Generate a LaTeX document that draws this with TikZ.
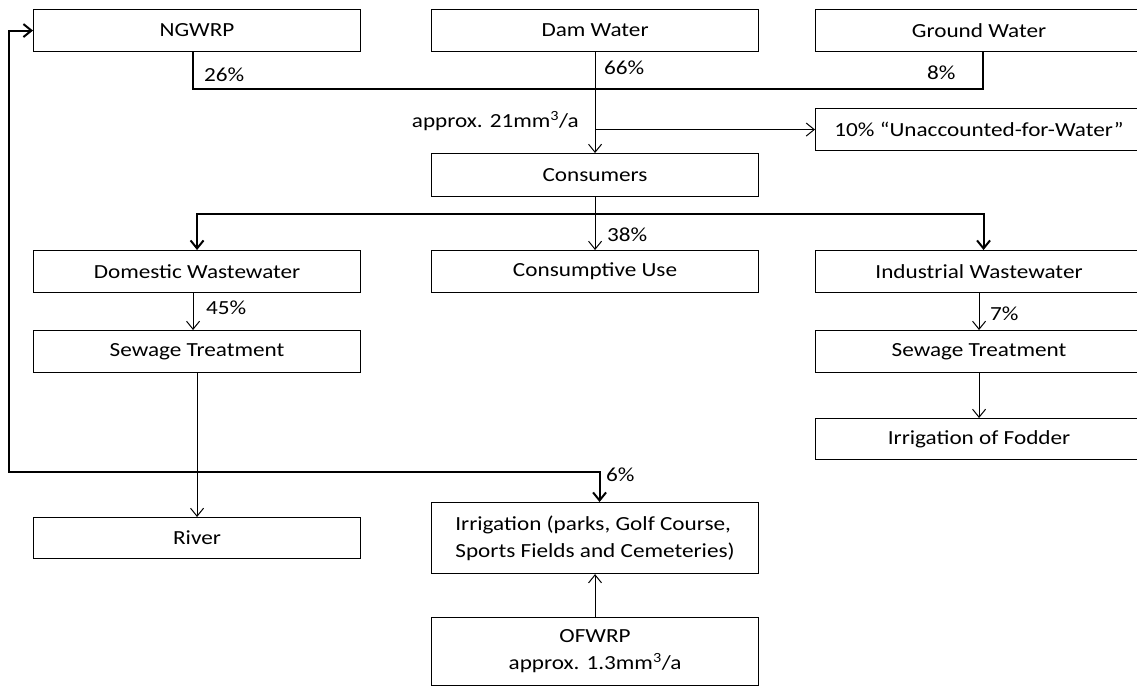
\documentclass[tikz,border=0pt]{standalone}
\usepackage{fontspec}
\setmainfont{Carlito}[FakeStretch=1.16]
\usetikzlibrary{arrows.meta}
\begin{document}
\begin{tikzpicture}[x=1pt,y=-1pt,
  box/.style={draw,line width=1.1pt,anchor=north west,minimum width=327pt,inner sep=0pt,font=\fontsize{20}{27}\selectfont},
  lbl/.style={font=\fontsize{20}{27}\selectfont,inner sep=0pt,anchor=west},
  thinline/.style={line width=1pt},
  heavy/.style={line width=2pt},
  tip/.tip={Straight Barb[length=8pt,width=13pt]},
  arr/.style={-tip}]
\useasboundingbox (0,0) rectangle (1137,686);
% boxes
\node[box,minimum height=42pt] (ngwrp) at (33,9) {NGWRP};
\node[box,minimum height=42pt] (dam) at (431,9) {Dam Water};
\node[box,minimum height=42pt] (ground) at (815,9) {Ground Water};
\node[box,minimum height=42pt] (uaw) at (815,108) {10\% “Unaccounted-for-Water”};
\node[box,minimum height=43pt] (cons) at (431,153) {Consumers};
\node[box,minimum height=42pt] (dom) at (33,250) {Domestic Wastewater};
\node[box,minimum height=42pt] (cuse) at (431,250) {Consumptive Use};
\node[box,minimum height=42pt] (ind) at (815,250) {Industrial Wastewater};
\node[box,minimum height=42pt] (sewl) at (33,330) {Sewage Treatment};
\node[box,minimum height=42pt] (sewr) at (815,330) {Sewage Treatment};
\node[box,minimum height=41pt] (fod) at (815,418) {Irrigation of Fodder};
\node[box,minimum height=41pt] (river) at (33,517) {River};
\node[box,minimum height=71pt,align=left] (irr) at (431,502) {Irrigation (parks, Golf Course,\\Sports Fields and Cemeteries)};
\node[box,minimum height=68pt,align=center] (ofw) at (431,617) {OFWRP\\approx. 1.3mm\textsuperscript{3}/a};
% top bracket
\draw[heavy] ([xshift=-4.5pt]ngwrp.south) -- ++(0,37) -| ([xshift=3.5pt]ground.south);
\draw[thinline,arr] (dam.south) -- (cons.north);
\draw[thinline,arr] (dam.south |- uaw.west) -- (uaw.west);
% consumers split
\draw[heavy,arr] (cons.south |- 0,214) -| (dom.north);
\draw[heavy,arr] (cons.south |- 0,214) -| ([xshift=4.5pt]ind.north);
\draw[thinline,arr] (cons.south) -- (cuse.north);
% domestic chain
\draw[thinline,arr] ([xshift=-4pt]dom.south) -- ([xshift=-4pt]sewl.north);
\draw[thinline,arr] (sewl.south) -- (river.north);
% industrial chain
\draw[thinline,arr] (ind.south) -- (sewr.north);
\draw[thinline,arr] (sewr.south) -- (fod.north);
% loop
\coordinate (lc) at (9,472);
\draw[heavy,tip-tip] (ngwrp.west) -| (lc) -| ([xshift=4.5pt]irr.north);
\draw[thinline,arr] (ofw.north) -- (irr.south);
% labels
\node[lbl] (l26) at (204,75) {26\%};
\node[lbl] (l66) at (604,68) {66\%};
\node[lbl] (l8) at (927,73) {8\%};
\node[lbl,anchor=east] (lapp) at (579,121) {approx. 21mm\textsuperscript{3}/a};
\node[lbl] (l38) at (607,235) {38\%};
\node[lbl] (l45) at (206,308) {45\%};
\node[lbl] (l7) at (990,314) {7\%};
\node[lbl] (l6) at (606,475) {6\%};
\end{tikzpicture}
\end{document}
